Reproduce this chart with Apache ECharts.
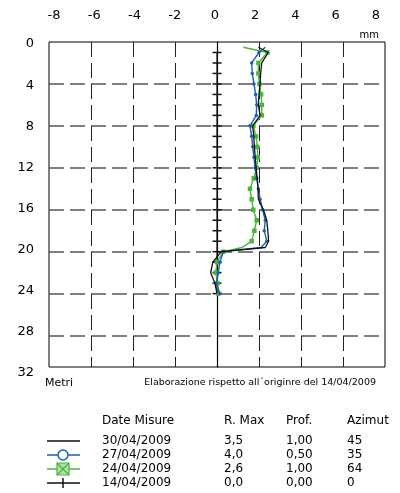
<!DOCTYPE html>
<html>
<head>
<meta charset="utf-8">
<script src="https://cdn.jsdelivr.net/npm/echarts@6/dist/echarts.min.js"></script>
<style>
html,body{margin:0;padding:0;background:#fff;}
#chart{width:400px;height:493px;}
</style>
</head>
<body>
<div id="chart"></div>
<script>
// ---- data ----
const xTicks = [-8, -6, -4, -2, 0, 2, 4, 6, 8];          // mm
const yTicks = [0, 4, 8, 12, 16, 20, 24, 28, 32];        // Metri
const depths = [0.5, 1, 2, 3, 4, 5, 6, 7, 8, 9, 10, 11, 12, 13, 14, 15, 16, 17, 18, 19, 19.6, 20, 21, 22, 23, 24];
const s30_04 = [1.97, 2.44, 2.13, 2.08, 2.05, 2.00, 1.97, 2.05, 1.70, 1.75, 1.78, 1.82, 1.86, 1.92, 1.95, 1.97, 2.21, 2.37, 2.42, 2.46, 2.30, 0.20, -0.20, -0.30, -0.10, 0.00];
const s27_04 = [2.30, 2.00, 1.65, 1.68, 1.76, 1.84, 1.89, 1.87, 1.57, 1.65, 1.70, 1.76, 1.81, 1.89, 1.97, 2.05, 2.17, 2.30, 2.25, 2.37, 2.10, 0.30, 0.14, 0.06, -0.03, 0.14];
const s24_04 = [1.25, 2.40, 1.97, 1.97, 2.02, 2.10, 2.13, 2.13, 1.73, 1.86, 1.92, 1.94, 1.89, 1.75, 1.57, 1.65, 1.73, 1.89, 1.78, 1.65, 1.20, 0.30, 0.00, -0.06, 0.03, 0.06];
const refDepths = [1, 2, 3, 4, 5, 6, 7, 8, 9, 10, 11, 12, 13, 14, 15, 16, 17, 18, 19, 20, 21, 22, 23, 24];
const s14_04 = [0, 0, 0, 0, 0, 0, 0, 0, 0, 0, 0, 0, 0, 0, 0, 0, 0, 0, 0, 0, 0, 0, 0, 0];

const legendHeader = ['Date Misure', 'R. Max', 'Prof.', 'Azimut'];
const legendDates = ['30/04/2009', '27/04/2009', '24/04/2009', '14/04/2009'];
const legendRMax = ['3,5', '4,0', '2,6', '0,0'];
const legendProf = ['1,00', '0,50', '1,00', '0,00'];
const legendAzimut = ['45', '35', '64', '0'];
const axisUnitX = 'mm';
const axisUnitY = 'Metri';
const caption = 'Elaborazione rispetto all\u00B4originre del 14/04/2009';

// ---- styles ----
const FONT = 'DejaVu Sans';
const BLACK = '#111111';
const BLUE = '#1b5fae';
const GREEN = '#4db33d';

function pairs(xs, ys, hideFrac) {
  return xs.map((x, i) => {
    const d = ys[i];
    const item = { value: [x, d] };
    if (hideFrac && !Number.isInteger(d)) item.symbol = 'none';
    return item;
  });
}

const chart = echarts.init(document.getElementById('chart'), null, { renderer: 'canvas' });

const vColors = ['rgba(0,0,0,0)', '#222', '#222', '#222', 'rgba(0,0,0,0)', '#222', '#222', '#222', 'rgba(0,0,0,0)'];
const hColors = ['rgba(0,0,0,0)', '#555', '#555', '#555', '#555', '#555', '#555', '#555', 'rgba(0,0,0,0)'];

// legend graphics
const graphics = [];
const colX = [102, 224, 286, 347];
const headerY = 421;
const rowY = [441, 455, 469, 483];
legendHeader.forEach((t, i) => graphics.push({
  type: 'text', style: { text: t, x: colX[i], y: headerY, font: '12px "' + FONT + '"', fill: '#000', verticalAlign: 'middle', align: 'left' }
}));
legendDates.forEach((t, r) => {
  [t, legendRMax[r], legendProf[r], legendAzimut[r]].forEach((v, i) => graphics.push({
    type: 'text', style: { text: v, x: colX[i], y: rowY[r], font: '12px "' + FONT + '"', fill: '#000', verticalAlign: 'middle', align: 'left' }
  }));
});
const lx0 = 47, lx1 = 80, lcx = 63;
const iconColors = [BLACK, BLUE, GREEN, BLACK];
rowY.forEach((y, r) => {
  graphics.push({ type: 'line', shape: { x1: lx0, y1: y, x2: lx1, y2: y }, style: { stroke: iconColors[r], lineWidth: 1.5 } });
});
graphics.push({ type: 'circle', shape: { cx: lcx, cy: rowY[1], r: 5 }, style: { fill: '#fff', stroke: BLUE, lineWidth: 1.5 } });
graphics.push({ type: 'rect', shape: { x: lcx - 6, y: rowY[2] - 6, width: 12, height: 12 }, style: { fill: '#b3e0a6', stroke: GREEN, lineWidth: 1.2 } });
graphics.push({ type: 'line', shape: { x1: lcx - 6, y1: rowY[2] - 6, x2: lcx + 6, y2: rowY[2] + 6 }, style: { stroke: GREEN, lineWidth: 1.2 } });
graphics.push({ type: 'line', shape: { x1: lcx - 6, y1: rowY[2] + 6, x2: lcx + 6, y2: rowY[2] - 6 }, style: { stroke: GREEN, lineWidth: 1.2 } });
graphics.push({ type: 'line', shape: { x1: lcx, y1: rowY[3] - 5, x2: lcx, y2: rowY[3] + 5 }, style: { stroke: BLACK, lineWidth: 1.5 } });
// unit labels & caption
graphics.push({ type: 'text', style: { text: axisUnitX, x: 379, y: 35, font: '10px "' + FONT + '"', fill: '#000', align: 'right', verticalAlign: 'middle' } });
graphics.push({ type: 'text', style: { text: axisUnitY, x: 45, y: 383, font: '11px "' + FONT + '"', fill: '#000', align: 'left', verticalAlign: 'middle' } });
graphics.push({ type: 'text', style: { text: caption, x: 376, y: 383, font: '9.5px "' + FONT + '"', fill: '#000', align: 'right', verticalAlign: 'middle' } });

const option = {
  animation: false,
  backgroundColor: '#fff',
  grid: [
    { left: 49, right: 15, top: 42, bottom: 126, show: true, borderColor: '#000', borderWidth: 1, backgroundColor: 'transparent' },
    { left: 54, right: 24, top: 44, bottom: 120, show: false }
  ],
  xAxis: [
    {
      gridIndex: 0, type: 'value', min: -8, max: 8, interval: 2, position: 'top',
      axisLine: { show: false }, axisTick: { show: false }, axisLabel: { show: false },
      splitLine: { show: true, lineStyle: { color: vColors, type: [15, 6], width: 1 } }
    },
    {
      gridIndex: 1, type: 'value', min: xTicks[0], max: xTicks[xTicks.length - 1], interval: 2, position: 'top',
      axisLine: { show: false }, axisTick: { show: false }, splitLine: { show: false },
      axisLabel: { show: true, margin: 22, color: '#000', fontFamily: FONT, fontSize: 13 }
    }
  ],
  yAxis: [
    {
      gridIndex: 0, type: 'value', min: 0, max: 31, interval: 4, inverse: true,
      axisLine: { show: true, onZero: true, lineStyle: { color: '#000', width: 1.2 } },
      axisTick: { show: false }, axisLabel: { show: false },
      splitLine: { show: true, lineStyle: { color: hColors, type: [15, 6], width: 1.5 } }
    },
    {
      gridIndex: 1, type: 'value', min: yTicks[0], max: yTicks[yTicks.length - 1], interval: 4, inverse: true,
      axisLine: { show: false }, axisTick: { show: false }, splitLine: { show: false },
      axisLabel: { show: true, margin: 20, color: '#000', fontFamily: FONT, fontSize: 13, align: 'right' }
    }
  ],
  series: [
    {
      name: '14/04/2009', type: 'line', xAxisIndex: 0, yAxisIndex: 0,
      data: pairs(s14_04, refDepths, false),
      lineStyle: { color: BLACK, width: 1.2 }, itemStyle: { color: BLACK },
      symbol: 'rect', symbolSize: [9, 1.5], showSymbol: true, z: 3
    },
    {
      name: '24/04/2009', type: 'line', xAxisIndex: 0, yAxisIndex: 0,
      data: pairs(s24_04, depths, true),
      lineStyle: { color: GREEN, width: 1.4 }, itemStyle: { color: GREEN },
      symbol: 'rect', symbolSize: 4.5, showSymbol: true, z: 4
    },
    {
      name: '27/04/2009', type: 'line', xAxisIndex: 0, yAxisIndex: 0,
      data: pairs(s27_04, depths, true),
      lineStyle: { color: BLUE, width: 1.4 }, itemStyle: { color: BLUE },
      symbol: 'circle', symbolSize: 3.5, showSymbol: true, z: 5
    },
    {
      name: '30/04/2009', type: 'line', xAxisIndex: 0, yAxisIndex: 0,
      data: pairs(s30_04, depths, false),
      lineStyle: { color: BLACK, width: 1.3 }, symbol: 'none', z: 6
    }
  ],
  graphic: graphics
};
chart.setOption(option);
</script>
</body>
</html>
